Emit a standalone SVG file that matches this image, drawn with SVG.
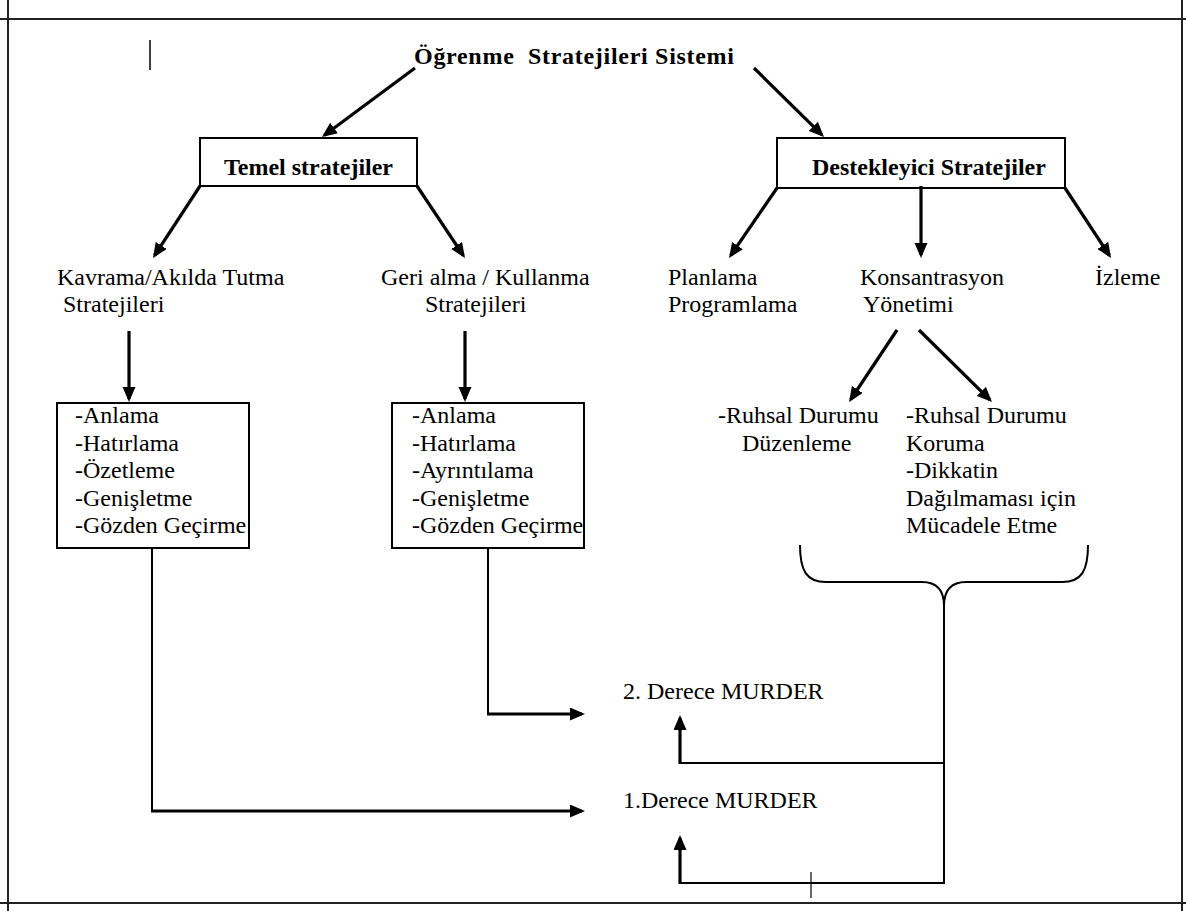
<svg xmlns="http://www.w3.org/2000/svg" width="1186" height="911" viewBox="0 0 1186 911">
<style>
text{font-family:"Liberation Serif","Times New Roman","DejaVu Serif",serif;font-size:24px;fill:#000;white-space:pre}
.b{font-weight:bold}
.frame{stroke:#222;stroke-width:2;fill:none}
.box{stroke:#000;stroke-width:2;fill:#fff}
.arr{stroke:#000;stroke-width:3.2;fill:none;marker-end:url(#ah)}
.thin{stroke:#000;stroke-width:2;fill:none}
</style>
<defs>
<marker id="ah" markerUnits="userSpaceOnUse" markerWidth="16" markerHeight="14" refX="12" refY="6.5" orient="auto">
<path d="M0,0 L15,6.5 L0,13 z" fill="#000"/>
</marker>
</defs>
<rect width="1186" height="911" fill="#fff"/>
<g id="frame">
<line class="frame" x1="0" y1="19" x2="1186" y2="19"/>
<line class="frame" x1="0" y1="903" x2="1186" y2="903"/>
<line class="frame" x1="8" y1="0" x2="8" y2="911"/>
<line class="frame" x1="1182" y1="0" x2="1182" y2="911"/>
<line stroke="#000" stroke-width="1.5" x1="150" y1="40" x2="150" y2="70"/>
</g>
<g id="title"><text class="b" x="414" y="64" textLength="320" lengthAdjust="spacing">Öğrenme  Stratejileri Sistemi</text></g>
<g id="temel"><rect class="box" x="200" y="138" width="217" height="48"/><text class="b" x="308.5" y="175" text-anchor="middle">Temel stratejiler</text></g>
<g id="destek"><rect class="box" x="777" y="138" width="288" height="50"/><text class="b" x="812" y="175">Destekleyici Stratejiler</text></g>
<g id="kavrama"><text x="57" y="285">Kavrama/Akılda Tutma</text><text x="63" y="312">Stratejileri</text></g>
<g id="geri"><text x="381" y="285">Geri alma / Kullanma</text><text x="425" y="312">Stratejileri</text></g>
<g id="planlama"><text x="668" y="285">Planlama</text><text x="668" y="312">Programlama</text></g>
<g id="konsantrasyon"><text x="860" y="285">Konsantrasyon</text><text x="863" y="312">Yönetimi</text></g>
<g id="izleme"><text x="1095" y="285">İzleme</text></g>
<g id="list1"><rect class="box" x="57" y="403" width="192" height="145"/>
<text x="75" y="423">-Anlama</text><text x="75" y="450.5">-Hatırlama</text><text x="75" y="478">-Özetleme</text><text x="75" y="505.5">-Genişletme</text><text x="75" y="533">-Gözden Geçirme</text></g>
<g id="list2"><rect class="box" x="392" y="403" width="192" height="145"/>
<text x="412" y="423">-Anlama</text><text x="412" y="450.5">-Hatırlama</text><text x="412" y="478">-Ayrıntılama</text><text x="412" y="505.5">-Genişletme</text><text x="412" y="533">-Gözden Geçirme</text></g>
<g id="ruhsal1"><text x="718" y="423">-Ruhsal Durumu</text><text x="742" y="450.5">Düzenleme</text></g>
<g id="ruhsal2"><text x="906" y="423">-Ruhsal Durumu</text><text x="906" y="450.5">Koruma</text><text x="906" y="478">-Dikkatin</text><text x="906" y="505.5">Dağılmaması için</text><text x="906" y="533">Mücadele Etme</text></g>
<g id="derece2"><text x="623" y="699">2. Derece MURDER</text></g>
<g id="derece1"><text x="623" y="808">1.Derece MURDER</text></g>
<g id="connectors">
<line class="arr" x1="415" y1="68" x2="324.4" y2="135.2"/>
<line class="arr" x1="754" y1="68" x2="821.9" y2="134.9"/>
<line class="arr" x1="200" y1="186" x2="154.6" y2="255.5"/>
<line class="arr" x1="417" y1="186" x2="463.3" y2="255.5"/>
<line class="arr" x1="129" y1="331" x2="129" y2="399"/>
<line class="arr" x1="465" y1="331" x2="465" y2="399"/>
<line class="arr" x1="777" y1="188" x2="730.7" y2="255.5"/>
<line class="arr" x1="921" y1="186" x2="921" y2="255"/>
<line class="arr" x1="1065" y1="188" x2="1109.4" y2="255.5"/>
<line class="arr" x1="897" y1="330" x2="850.7" y2="399.5"/>
<line class="arr" x1="919" y1="330" x2="989.9" y2="399.9"/>
<path class="thin" d="M800,545 C800,570 806,582 826,582 L922,582 C938,582 944,592 944,606 C944,592 950,582 966,582 L1062,582 C1082,582 1088,570 1088,545"/>
<line class="thin" x1="944" y1="600" x2="944" y2="884"/>
<line class="thin" x1="152" y1="548" x2="152" y2="812"/>
<line class="thin" x1="488" y1="548" x2="488" y2="715"/>
<line class="arr" x1="151" y1="811" x2="582" y2="811"/>
<line class="arr" x1="487" y1="714" x2="582" y2="714"/>
<line class="thin" x1="944" y1="763" x2="679" y2="763"/>
<line class="thin" x1="944" y1="883" x2="679" y2="883"/>
<line class="arr" x1="680" y1="764" x2="680" y2="718"/>
<line class="arr" x1="680" y1="884" x2="680" y2="838"/>
<line stroke="#000" stroke-width="1.2" x1="811" y1="872" x2="811" y2="898"/>
</g>
</svg>
